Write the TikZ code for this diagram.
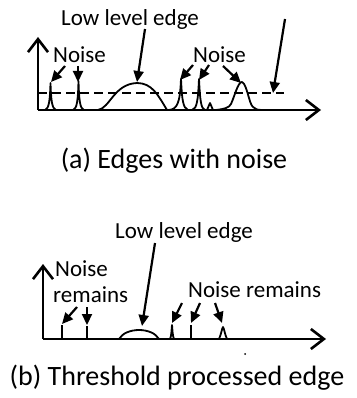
\documentclass[tikz,border=0pt]{standalone}
\usepackage{fontspec}
\setmainfont{Carlito}
\usetikzlibrary{arrows.meta}
\begin{document}
\begin{tikzpicture}[x=1pt,y=-1pt,
  axis/.style={line width=2.6pt,-{Straight Barb[length=13pt,width=20pt,line width=2.6pt]}},
  pointer/.style={line width=2.2pt,-{Triangle[length=11pt,width=10pt]}},
  curve/.style={line width=1.8pt,line join=round},
  lbl/.style={anchor=base west,inner sep=0pt,font=\fontsize{23}{25}\selectfont},
  captext/.style={anchor=base,inner sep=0pt,font=\fontsize{28}{30}\selectfont}]
\useasboundingbox (0,0) rectangle (356,398);
% ---------- (a) ----------
\coordinate (ao) at (38,110);
\coordinate (ay) at (38,37);
\coordinate (ax) at (321,110);
\draw[axis] (ao) -- (ay);
\draw[axis] (ao) -- (ax);
\coordinate (th1) at (38,93);
\coordinate (th2) at (284,93);
\draw[line width=2.4pt,dash pattern=on 9pt off 5pt] (th1) -- (th2);
% curves
\draw[curve] (45,110) .. controls (49,109) and (50,100) .. (50.5,83) .. controls (51,100) and (52,109) .. (56,110);
\draw[curve] (73,110) .. controls (77,109) and (78,100) .. (78.5,81) .. controls (79,100) and (80,109) .. (84,110);
\draw[curve] (98,110) .. controls (110,108) and (114,84) .. (137,83) .. controls (152,83) and (158,95) .. (167,110);
\draw[curve] (169,110) .. controls (177,109) and (180,104) .. (181,79) .. controls (182,100) and (183,108) .. (188,110);
\draw[curve] (192,110) .. controls (197,109) and (198,100) .. (199,79) .. controls (200,100) and (201,109) .. (205,110);
\draw[curve] (207,110) -- (210,103) -- (213,110);
\draw[curve] (216,110) .. controls (224,109) and (229,108) .. (231,104) .. controls (235,95) and (238,82) .. (242,82) .. controls (247,84) and (249,104) .. (253,107) .. controls (255,109) and (257,110) .. (262,110);
% labels
\node[lbl] (alow) at (61,26) {Low level edge};
\node[lbl] (anl) at (53,63) {Noise};
\node[lbl] (anr) at (193,63) {Noise};
\node[captext] (acap) at (174,168) {(a) Edges with noise};
% pointers
\coordinate (p1s) at (145,29); \coordinate (p1e) at (137,82);
\coordinate (p2s) at (65,66);  \coordinate (p2e) at (51,82);
\coordinate (p3s) at (78,66);  \coordinate (p3e) at (78,82);
\coordinate (p4s) at (193,65); \coordinate (p4e) at (180,80);
\coordinate (p5s) at (209,65); \coordinate (p5e) at (199,80);
\coordinate (p6s) at (223,66); \coordinate (p6e) at (241,83);
\coordinate (p7s) at (285,19); \coordinate (p7e) at (273,93);
\foreach \i in {1,...,7} \draw[pointer] (p\i s) -- (p\i e);
% ---------- (b) ----------
\coordinate (bo) at (43,339);
\coordinate (by) at (43,264);
\coordinate (bx) at (326,339);
\draw[axis] (bo) -- (by);
\draw[axis] (bo) -- (bx);
\draw[curve] (62,339) -- (62,325);
\draw[curve] (87,339) -- (87,326);
\draw[curve] (119,339) .. controls (126,327) and (152,327) .. (159,339);
\draw[curve] (170,339) .. controls (171.5,336) and (171.5,330) .. (172,325) .. controls (172.5,330) and (172.5,336) .. (174,339);
\draw[curve] (191,339) -- (191,325);
\draw[curve] (219,339) .. controls (221,335) and (222,328) .. (223,327) .. controls (224,328) and (225,335) .. (227,339);
\fill (245,354) circle (1pt);
\node[lbl] (blow) at (115,238) {Low level edge};
\node[lbl] (bn1) at (55,276) {Noise};
\node[lbl] (bn2) at (53,302) {remains};
\node[lbl] (bnr) at (188,297) {Noise remains};
\node[captext] (bcap) at (177,385) {(b) Threshold processed edge};
\coordinate (q1s) at (155,243); \coordinate (q1e) at (142,326);
\coordinate (q2s) at (77,307);  \coordinate (q2e) at (62,324);
\coordinate (q3s) at (87,307);  \coordinate (q3e) at (87,325);
\coordinate (q4s) at (182,303); \coordinate (q4e) at (172,323);
\coordinate (q5s) at (200,303); \coordinate (q5e) at (191,323);
\coordinate (q6s) at (215,303); \coordinate (q6e) at (222,323);
\foreach \i in {1,...,6} \draw[pointer] (q\i s) -- (q\i e);
\end{tikzpicture}
\end{document}
